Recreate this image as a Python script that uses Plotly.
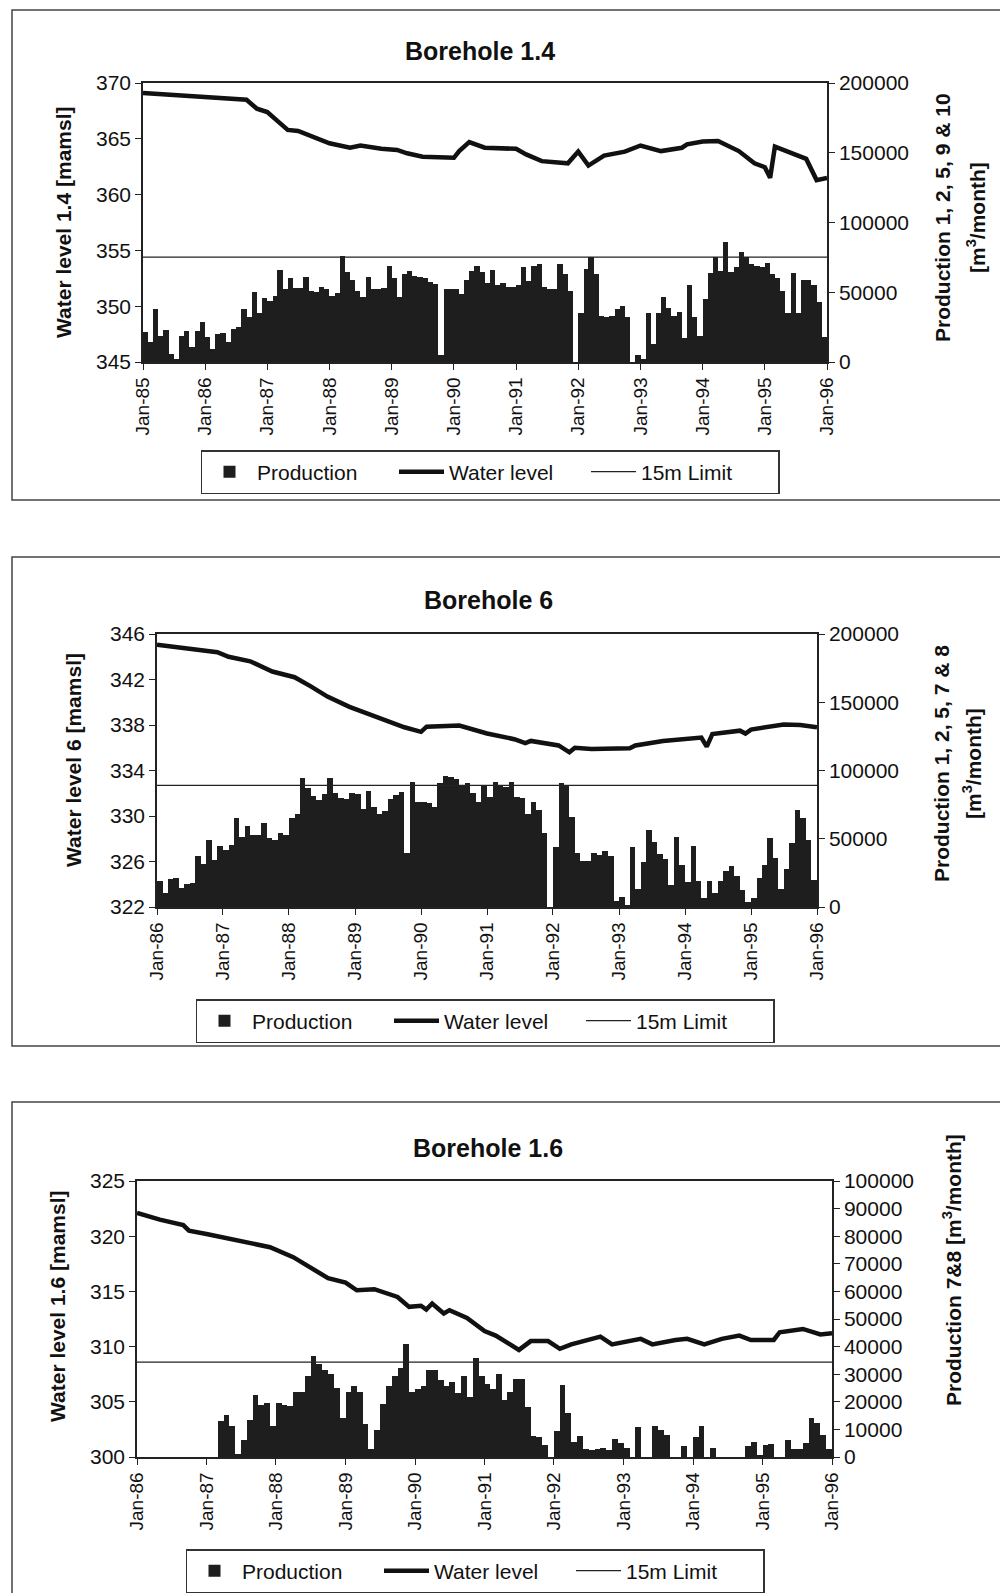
import numpy as np
import pandas as pd
import plotly.graph_objects as go

# ---------------- DATA ----------------
# Borehole 1.4 : monthly production Jan-85 .. Dec-95 (m3/month)
prod_14 = [
    21500, 14300, 38000, 18400, 23000, 6000, 2400, 19000, 22000, 10700, 22000, 29000,
    18000, 9500, 20000, 21000, 14000, 24000, 25000, 38000, 32000, 50000, 35000, 46000,
    44000, 47000, 66000, 52000, 60000, 53000, 53000, 61000, 51000, 50000, 54000, 52500,
    47000, 49500, 76000, 64500, 58500, 51000, 46500, 61000, 52000, 52000, 53000, 69000,
    60000, 46500, 63000, 65000, 62000, 61000, 60000, 57000, 56000, 5000, 52000, 52500,
    52000, 49000, 58500, 65000, 68500, 64500, 56500, 66000, 55500, 56500, 54000, 54000,
    55000, 68000, 58000, 68500, 70000, 54000, 52500, 52500, 70500, 63000, 51000, 0,
    35000, 67000, 75000, 63000, 33000, 32000, 33000, 38000, 40500, 32000, 0, 5000,
    2000, 35000, 13000, 35000, 46500, 39000, 33000, 36000, 17000, 55000, 32000, 19000,
    45000, 64000, 75000, 65500, 86000, 64500, 68000, 79000, 75000, 70500, 69000, 68000,
    71000, 63000, 60000, 51000, 35000, 64000, 35000, 59000, 58500, 55000, 43000, 18000,
]
wl_14_dates = [
    "1985-01", "1985-11", "1986-09", "1986-11", "1987-01", "1987-03", "1987-05", "1987-07",
    "1987-10", "1988-01", "1988-05", "1988-07", "1988-11", "1989-02", "1989-04", "1989-07",
    "1990-01", "1990-02", "1990-04", "1990-07", "1991-01", "1991-03", "1991-06", "1991-11",
    "1992-01", "1992-03", "1992-06", "1992-10", "1993-01", "1993-05", "1993-09", "1993-10",
    "1994-01", "1994-04", "1994-08", "1994-11", "1995-01", "1995-02", "1995-03", "1995-06",
    "1995-09", "1995-11", "1996-01",
]
wl_14 = [
    369.1, 368.8, 368.5, 367.7, 367.4, 366.6, 365.8, 365.7,
    365.1, 364.6, 364.2, 364.4, 364.1, 364.0, 363.7, 363.4,
    363.3, 363.9, 364.7, 364.2, 364.1, 363.6, 363.0, 362.8,
    363.85, 362.6, 363.5, 363.85, 364.4, 363.9, 364.2, 364.5,
    364.75, 364.8, 363.9, 362.8, 362.45, 361.5, 364.3, 363.7,
    363.2, 361.3, 361.5,
]
limit_14 = 354.4

# Borehole 6 : monthly production Jan-86 .. Dec-95
prod_6 = [
    18800, 10300, 20800, 21300, 14200, 17100, 17600, 37200, 31800, 49400, 34800, 44500,
    42100, 45300, 64900, 51400, 59200, 52600, 52600, 61200, 50200, 49000, 53900, 52600,
    65400, 68500, 94200, 86900, 81300, 78300, 82700, 94200, 83200, 79600, 78800, 83200,
    82700, 71500, 85200, 72900, 68100, 70500, 78800, 82000, 84500, 39200, 91800, 77100,
    77100, 75900, 73400, 90600, 96000, 95500, 93500, 89300, 91100, 83700, 77100, 88600,
    80800, 91800, 89300, 88100, 91800, 80800, 79600, 68500, 77100, 71000, 53900, 0,
    44200, 90800, 89600, 66300, 39300, 33600, 33600, 39300, 38000, 41000, 37500, 4200,
    7400, 1200, 44200, 13500, 33100, 56400, 47800, 38500, 35100, 16400, 51500, 30700,
    18400, 44900, 18900, 6600, 18900, 10600, 18900, 26300, 30200, 22800, 12300, 3700,
    6600, 21300, 30700, 50300, 35600, 13500, 28200, 46600, 71200, 65500, 49100, 19600,
]
wl_6_dates = [
    "1986-01", "1986-08", "1986-12", "1987-02", "1987-06", "1987-10", "1988-01", "1988-02",
    "1988-05", "1988-08", "1988-12", "1989-05", "1989-07", "1989-10", "1990-01", "1990-02",
    "1990-08", "1991-01", "1991-06", "1991-08", "1991-09", "1992-02", "1992-04", "1992-05",
    "1992-08", "1993-01", "1993-03", "1993-04", "1993-09", "1994-04", "1994-05", "1994-06",
    "1994-11", "1994-12", "1995-01", "1995-07", "1995-10", "1996-01",
]
wl_6 = [
    345.05, 344.6, 344.4, 344.0, 343.6, 342.7, 342.3, 342.2,
    341.4, 340.5, 339.6, 338.7, 338.4, 337.8, 337.4, 337.85,
    337.95, 337.25, 336.75, 336.4, 336.6, 336.2, 335.6, 336.0,
    335.9, 336.0, 335.95, 336.2, 336.6, 336.9, 336.1, 337.2,
    337.5, 337.25, 337.6, 338.05, 338.0, 337.8,
]
limit_6 = 332.7

# Borehole 1.6 : monthly production Jan-86 .. Dec-95
prod_16 = [
    0, 0, 0, 0, 0, 0, 0, 0, 0, 0, 0, 0,
    0, 0, 13000, 15100, 11100, 1200, 6300, 13500, 22300, 18700, 19600, 11100,
    19600, 18700, 18400, 23600, 23600, 29200, 36500, 33800, 31600, 30000, 25100, 14300,
    23600, 25600, 23600, 12100, 3000, 9700, 19100, 25600, 29200, 32400, 41100, 23600,
    24800, 25600, 31600, 31600, 27800, 25600, 27200, 23200, 29200, 21700, 36000, 29200,
    26300, 24800, 30000, 20800, 23600, 28400, 28400, 18100, 7500, 7200, 4200, 0,
    9500, 26000, 15800, 5600, 7600, 2800, 2400, 2800, 3400, 2400, 6400, 5200,
    3400, 0, 10900, 0, 0, 11300, 9700, 8000, 0, 0, 4000, 0,
    7300, 11300, 0, 3100, 0, 0, 0, 0, 0, 4000, 5600, 400,
    4400, 4800, 0, 0, 6100, 2800, 2800, 5200, 14300, 12500, 8000, 2800,
]
wl_16_dates = [
    "1986-01", "1986-05", "1986-09", "1986-10", "1987-01", "1987-05", "1987-08", "1987-12",
    "1988-04", "1988-07", "1988-10", "1989-01", "1989-03", "1989-06", "1989-10", "1989-12",
    "1990-02", "1990-03", "1990-04", "1990-06", "1990-07", "1990-10", "1991-01", "1991-03",
    "1991-07", "1991-09", "1991-12", "1992-02", "1992-04", "1992-09", "1992-11", "1993-04",
    "1993-06", "1993-10", "1993-12", "1994-03", "1994-06", "1994-09", "1994-11", "1995-03",
    "1995-04", "1995-08", "1995-11", "1996-01",
]
wl_16 = [
    322.1, 321.5, 321.0, 320.5, 320.2, 319.8, 319.5, 319.0,
    318.1, 317.2, 316.2, 315.8, 315.1, 315.2, 314.5, 313.6,
    313.7, 313.35, 313.9, 313.0, 313.3, 312.6, 311.4, 311.0,
    309.7, 310.5, 310.5, 309.8, 310.2, 310.9, 310.2, 310.7,
    310.2, 310.6, 310.7, 310.2, 310.7, 311.0, 310.6, 310.6,
    311.3, 311.6, 311.1, 311.2,
]
limit_16 = 308.6

titles = ["Borehole 1.4", "Borehole 6", "Borehole 1.6"]
left_titles = ["Water level 1.4 [mamsl]", "Water level 6 [mamsl]", "Water level 1.6 [mamsl]"]
right_titles = [
    ["Production 1, 2, 5, 9 & 10", "[m<sup>3</sup>/month]"],
    ["Production 1, 2, 5, 7 & 8", "[m<sup>3</sup>/month]"],
    ["Production 7&8 [m<sup>3</sup>/month]"],
]
legend_names = ["Production", "Water level", "15m Limit"]

# ---------------- LAYOUT CONFIG ----------------
W, H = 1000, 1593
FONT = "Liberation Sans"
BAR_COLOR = "#1e1e1e"


def px(x):
    return x / W


def py(y):
    return 1 - y / H


panels = [
    dict(prod=prod_14, start="1985-01-01", end="1996-01-01", wl_x=wl_14_dates, wl=wl_14,
         limit=limit_14, yl=[345, 370], yl_dt=5, yr=[0, 200000], yr_dt=50000,
         dx=(143, 827), dy=(83, 362), title_xy=(480, 51),
         lt_xy=(63, 222), rt_x=[943, 976], rt_y=218, frame=(12, 10, 500),
         leg_xy=(490, 450)),
    dict(prod=prod_6, start="1986-01-01", end="1996-01-01", wl_x=wl_6_dates, wl=wl_6,
         limit=limit_6, yl=[322, 346], yl_dt=4, yr=[0, 200000], yr_dt=50000,
         dx=(157, 817), dy=(634, 907), title_xy=(488, 600),
         lt_xy=(73, 760), rt_x=[941, 972], rt_y=764, frame=(12, 557, 1046),
         leg_xy=(485, 999)),
    dict(prod=prod_16, start="1986-01-01", end="1996-01-01", wl_x=wl_16_dates, wl=wl_16,
         limit=limit_16, yl=[300, 325], yl_dt=5, yr=[0, 100000], yr_dt=10000,
         dx=(137, 832), dy=(1181, 1457), title_xy=(488, 1148),
         lt_xy=(57, 1306), rt_x=[952], rt_y=1270, frame=(12, 1102, 1610),
         leg_xy=(475, 1549)),
]

fig = go.Figure()
annotations = []
shapes = []
layout = {}

for i, p in enumerate(panels):
    n = i + 1
    xa = "x" if n == 1 else f"x{n}"
    ya_prod = "y" if n == 1 else f"y{2 * n - 1}"
    ya_wl = f"y{2 * n}"
    leg = "legend" if n == 1 else f"legend{n}"

    edges = pd.date_range(p["start"], periods=len(p["prod"]) + 1, freq="MS")
    widths = (np.diff(edges.values) / np.timedelta64(1, "ms")).astype(float)

    fig.add_trace(go.Bar(
        x=edges[:-1], y=p["prod"], width=widths, offset=0,
        marker=dict(color=BAR_COLOR, line=dict(width=0)),
        name=legend_names[0], xaxis=xa, yaxis=ya_prod, legend=leg,
    ))
    fig.add_trace(go.Scatter(
        x=p["wl_x"], y=p["wl"], mode="lines",
        line=dict(color="#111111", width=4.5),
        name=legend_names[1], xaxis=xa, yaxis=ya_wl, legend=leg,
    ))
    fig.add_trace(go.Scatter(
        x=[p["start"], p["end"]], y=[p["limit"], p["limit"]], mode="lines",
        line=dict(color="#222222", width=1.3),
        name=legend_names[2], xaxis=xa, yaxis=ya_wl, legend=leg,
    ))

    xkey = "xaxis" if n == 1 else f"xaxis{n}"
    ykey_prod = "yaxis" if n == 1 else f"yaxis{2 * n - 1}"
    ykey_wl = f"yaxis{2 * n}"

    layout[xkey] = dict(
        domain=[px(p["dx"][0]), px(p["dx"][1])], anchor=ya_prod, type="date",
        range=[p["start"], p["end"]], tick0=p["start"], dtick="M12", tickformat="%b-%y",
        tickangle=-90, ticks="outside", ticklen=6, tickcolor="#222",
        showline=True, linecolor="#222", linewidth=1.5, mirror=True,
        showgrid=False, zeroline=False, automargin=False,
        tickfont=dict(family=FONT, size=19, color="#111"),
    )
    layout[ykey_prod] = dict(
        domain=[py(p["dy"][1]), py(p["dy"][0])], anchor=xa, side="right",
        range=p["yr"], tick0=0, dtick=p["yr_dt"], tickformat="d",
        ticks="outside", ticklen=6, tickcolor="#222",
        showline=True, linecolor="#222", linewidth=1.5,
        showgrid=False, zeroline=False, automargin=False,
        tickfont=dict(family=FONT, size=21, color="#111"),
    )
    layout[ykey_wl] = dict(
        overlaying=ya_prod, anchor=xa, side="left",
        range=p["yl"], tick0=p["yl"][0], dtick=p["yl_dt"],
        ticks="outside", ticklen=6, tickcolor="#222",
        showline=True, linecolor="#222", linewidth=1.5,
        showgrid=False, zeroline=False, automargin=False,
        tickfont=dict(family=FONT, size=21, color="#111"),
    )
    layout[leg] = dict(
        orientation="h", x=px(p["leg_xy"][0]), xanchor="center",
        y=py(p["leg_xy"][1]), yanchor="top",
        bordercolor="#333", borderwidth=1.5, bgcolor="white",
        font=dict(family=FONT, size=21, color="#111"),
        traceorder="normal", entrywidth=132, entrywidthmode="pixels",
        itemwidth=45,
    )

    annotations.append(dict(
        text=f"<b>{titles[i]}</b>", x=px(p["title_xy"][0]), y=py(p["title_xy"][1]),
        xref="paper", yref="paper", showarrow=False, xanchor="center", yanchor="middle",
        font=dict(family=FONT, size=25, color="#111"),
    ))
    annotations.append(dict(
        text=f"<b>{left_titles[i]}</b>", x=px(p["lt_xy"][0]), y=py(p["lt_xy"][1]),
        xref="paper", yref="paper", showarrow=False, textangle=-90,
        xanchor="center", yanchor="middle",
        font=dict(family=FONT, size=21, color="#111"),
    ))
    for line_txt, xx in zip(right_titles[i], p["rt_x"]):
        annotations.append(dict(
            text=f"<b>{line_txt}</b>", x=px(xx), y=py(p["rt_y"]),
            xref="paper", yref="paper", showarrow=False, textangle=-90,
            xanchor="center", yanchor="middle",
            font=dict(family=FONT, size=21, color="#111"),
        ))
    fx, fy0, fy1 = p["frame"]
    shapes.append(dict(
        type="rect", xref="paper", yref="paper",
        x0=px(fx), x1=1.02, y0=py(fy1), y1=py(fy0),
        line=dict(color="#444", width=1.5), fillcolor="rgba(0,0,0,0)", layer="below",
    ))

fig.update_layout(
    width=W, height=H, margin=dict(l=0, r=0, t=0, b=0, autoexpand=False),
    paper_bgcolor="white", plot_bgcolor="white",
    bargap=0, showlegend=True, hovermode=False,
    annotations=annotations, shapes=shapes,
    **layout,
)

fig.write_html(
    "out.html",
    config={"displayModeBar": False},
    post_script="document.body.style.margin='0px';",
)
